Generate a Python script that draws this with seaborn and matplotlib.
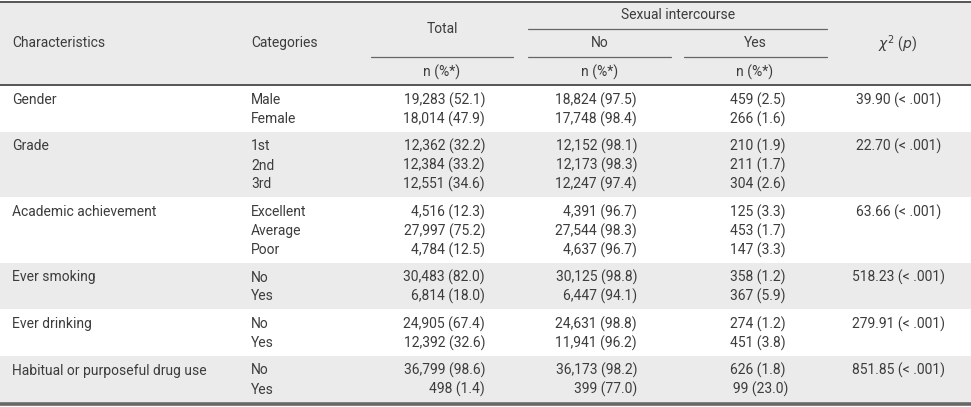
import matplotlib
matplotlib.use("Agg")
import matplotlib.pyplot as plt
import seaborn as sns

# ---------------- data ----------------
characteristics = ["Gender", "Grade", "Academic achievement", "Ever smoking",
                   "Ever drinking", "Habitual or purposeful drug use"]
categories = [["Male", "Female"], ["1st", "2nd", "3rd"],
              ["Excellent", "Average", "Poor"], ["No", "Yes"], ["No", "Yes"], ["No", "Yes"]]
total_n = [[19283, 18014], [12362, 12384, 12551], [4516, 27997, 4784],
           [30483, 6814], [24905, 12392], [36799, 498]]
total_pct = [[52.1, 47.9], [32.2, 33.2, 34.6], [12.3, 75.2, 12.5],
             [82.0, 18.0], [67.4, 32.6], [98.6, 1.4]]
no_n = [[18824, 17748], [12152, 12173, 12247], [4391, 27544, 4637],
        [30125, 6447], [24631, 11941], [36173, 399]]
no_pct = [[97.5, 98.4], [98.1, 98.3, 97.4], [96.7, 98.3, 96.7],
          [98.8, 94.1], [98.8, 96.2], [98.2, 77.0]]
yes_n = [[459, 266], [210, 211, 304], [125, 453, 147],
         [358, 367], [274, 451], [626, 99]]
yes_pct = [[2.5, 1.6], [1.9, 1.7, 2.6], [3.3, 1.7, 3.3],
           [1.2, 5.9], [1.2, 3.8], [1.8, 23.0]]
chi2 = [39.90, 22.70, 63.66, 518.23, 279.91, 851.85]
pval = ["< .001"] * 6

header_cols = ["Characteristics", "Categories", "Total", "Sexual intercourse", "No", "Yes"]
unit_label = "n (%*)"

# ---------------- style ----------------
sns.set_theme(style="white")
plt.rcParams["font.family"] = ["Roboto", "DejaVu Sans"]
TXT = "#3c3c3c"
GRAY = "#ebebeb"
FS = 10

fig = plt.figure(figsize=(9.71, 4.07), dpi=100)
ax = fig.add_axes([0, 0, 1, 1])
ax.set_xlim(0, 971)
ax.set_ylim(407, 0)
ax.axis("off")

# column anchors
X_CHAR, X_CAT, X_TOT, X_NO, X_YES, X_CHI = 12, 251, 485, 637, 730, 899

def t(x, y, s, ha="left", **kw):
    ax.text(x, y, s, ha=ha, va="center", fontsize=FS, color=TXT, **kw)

# header
ax.axhspan(2, 84.5, color=GRAY, lw=0, zorder=0)
ax.plot([0, 971], [1.5, 1.5], color="#555555", lw=1.4)
ax.plot([0, 971], [84.5, 84.5], color="#555555", lw=1.4)
t(X_CHAR, 43, header_cols[0])
t(X_CAT, 43, header_cols[1])
t(442, 29, header_cols[2], ha="center")
t(678, 15, header_cols[3], ha="center")
t(600, 43, header_cols[4], ha="center")
t(755, 43, header_cols[5], ha="center")
t(897, 44, r"$\chi^2$ ($p$)", ha="center")
for cx in (442, 600, 755):
    t(cx, 72, unit_label, ha="center")
lc = "#666666"
ax.plot([528, 827], [29, 29], color=lc, lw=0.9)
ax.plot([371, 513], [57, 57], color=lc, lw=0.9)
ax.plot([528, 671], [57, 57], color=lc, lw=0.9)
ax.plot([684, 827], [57, 57], color=lc, lw=0.9)

# body
y0 = 85
for i, ch in enumerate(characteristics):
    n = len(categories[i])
    h = 19 * n + 8.5
    if i % 2 == 1:
        ax.axhspan(y0, y0 + h, color=GRAY, lw=0, zorder=0)
    yl = y0 + 15
    t(X_CHAR, yl, ch)
    t(X_CHI, yl, f"{chi2[i]:.2f} ({pval[i]})", ha="center")
    for j in range(n):
        yy = yl + 19 * j
        t(X_CAT, yy, categories[i][j])
        t(X_TOT, yy, f"{total_n[i][j]:,} ({total_pct[i][j]:.1f})", ha="right")
        t(X_NO, yy, f"{no_n[i][j]:,} ({no_pct[i][j]:.1f})", ha="right")
        ys = f"{yes_n[i][j]:,} ({yes_pct[i][j]:.1f})"
        if yes_pct[i][j] >= 10:
            ys = "\u2009" + ys
        t(X_YES, yy, ys)
    y0 += h

ax.plot([0, 971], [y0 + 1.5, y0 + 1.5], color="#666666", lw=2.6)

fig.savefig("out.png", dpi=100)
